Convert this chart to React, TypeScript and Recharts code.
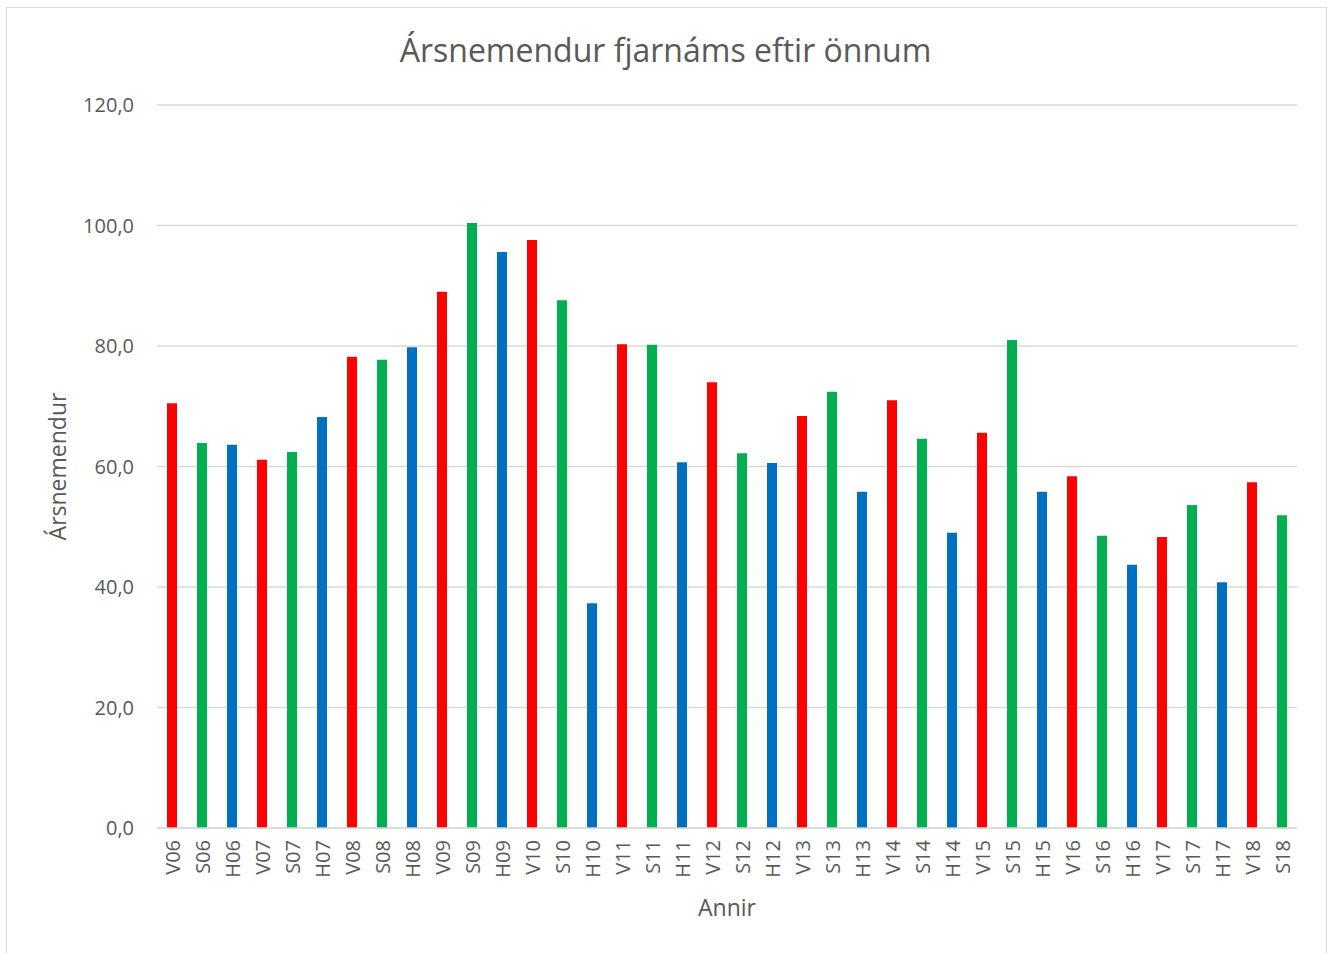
import { BarChart, Bar, Cell, XAxis, YAxis, CartesianGrid } from 'recharts';

const annir = [
  'V06', 'S06', 'H06', 'V07', 'S07', 'H07', 'V08', 'S08', 'H08', 'V09',
  'S09', 'H09', 'V10', 'S10', 'H10', 'V11', 'S11', 'H11', 'V12', 'S12',
  'H12', 'V13', 'S13', 'H13', 'V14', 'S14', 'H14', 'V15', 'S15', 'H15',
  'V16', 'S16', 'H16', 'V17', 'S17', 'H17', 'V18', 'S18',
];

const arsnemendur = [
  70.5, 63.9, 63.6, 61.1, 62.4, 68.2, 78.2, 77.7, 79.8, 89.0,
  100.4, 95.6, 97.6, 87.6, 37.3, 80.3, 80.2, 60.7, 74.0, 62.2,
  60.6, 68.4, 72.4, 55.8, 71.0, 64.6, 49.0, 65.6, 81.0, 55.8,
  58.4, 48.5, 43.7, 48.3, 53.6, 40.8, 57.4, 51.9,
];

const yTicks = [0, 20, 40, 60, 80, 100, 120];

// vor = rautt, sumar = grænt, haust = blátt
const seasonColors: Record<string, string> = {
  V: '#FF0000',
  S: '#00B050',
  H: '#0070C0',
};

const data = annir.map((name, i) => ({ name, value: arsnemendur[i] }));

const FONT = "'Open Sans', 'Noto Sans', sans-serif";
const TEXT = '#595959';

const fmt = (v: number) => v.toFixed(1).replace('.', ',');

function XTick({ x, y, payload }: any) {
  return (
    <text
      x={x}
      y={y}
      transform={`rotate(-90, ${x}, ${y})`}
      textAnchor="end"
      dominantBaseline="central"
      fill={TEXT}
      fontSize={20}
      fontFamily={FONT}
    >
      {payload.value}
    </text>
  );
}

export default function App() {
  return (
    <div style={{ position: 'absolute', left: 0, top: 0, width: 1331, height: 953, background: '#fff' }}>
      <div
        style={{
          position: 'absolute',
          left: 6,
          top: 7,
          width: 1319,
          height: 960,
          border: '1px solid #D9D9D9',
        }}
      />
      <div
        style={{
          position: 'absolute',
          left: 0,
          width: 1331,
          top: 28,
          textAlign: 'center',
          fontFamily: FONT,
          fontSize: 32,
          color: TEXT,
        }}
      >
        Ársnemendur fjarnáms eftir önnum
      </div>
      <div style={{ position: 'absolute', left: 0, top: 0 }}>
        <BarChart
          width={1331}
          height={953}
          data={data}
          margin={{ top: 105, right: 34, bottom: 0, left: 0 }}
          barSize={10}
        >
          <CartesianGrid vertical={false} stroke="#D9D9D9" strokeWidth={1.5} />
          <XAxis
            dataKey="name"
            interval={0}
            height={125}
            tick={<XTick />}
            tickLine={false}
            tickSize={0}
            tickMargin={12}
            axisLine={{ stroke: '#D9D9D9', strokeWidth: 1.5 }}
            label={{
              value: 'Annir',
              position: 'insideBottom',
              offset: 37,
              fill: TEXT,
              fontSize: 23,
              fontFamily: FONT,
            }}
          />
          <YAxis
            domain={[0, 120]}
            ticks={yTicks}
            width={157}
            tickFormatter={fmt}
            tickLine={false}
            axisLine={false}
            tickSize={0}
            tickMargin={23}
            tick={{ fill: TEXT, fontSize: 20, fontFamily: FONT }}
            label={{
              value: 'Ársnemendur',
              angle: -90,
              position: 'insideLeft',
              offset: 58,
              style: { textAnchor: 'middle' },
              fill: TEXT,
              fontSize: 23,
              fontFamily: FONT,
            }}
          />
          <Bar dataKey="value" isAnimationActive={false}>
            {data.map((d, i) => (
              <Cell key={`cell-${i}`} fill={seasonColors[d.name[0]]} />
            ))}
          </Bar>
        </BarChart>
      </div>
    </div>
  );
}
